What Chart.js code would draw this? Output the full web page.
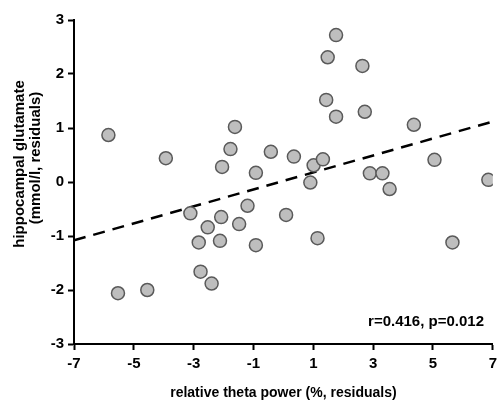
<!DOCTYPE html>
<html>
<head>
<meta charset="utf-8">
<script src="https://cdn.jsdelivr.net/npm/chart.js@4/dist/chart.umd.min.js"></script>
<style>
  html, body { margin: 0; padding: 0; background: #fff; }
  #wrap { width: 502px; height: 402px; }
</style>
</head>
<body>
<div id="wrap"><canvas id="scatterChart" width="502" height="402"></canvas></div>
<script>
// values
const thetaPower = [-5.85, -3.93, -1.62, -1.77, -2.05, -0.42, -0.92,
    1.76, 1.48, 2.64, 1.43, 1.76, 2.72, 4.36, 0.35, 1.01, 1.32, 5.05, 2.89, 3.31, 6.85,
    -3.11, -1.20, -2.08, -2.53, -1.48, -2.83, -2.12, -0.92, -2.77, -2.40, -5.53, -4.55,
    0.90, 3.55, 0.09, 1.14, 5.65];
const glutamate = [0.87, 0.44, 1.02, 0.61, 0.28, 0.56, 0.17,
    2.72, 2.31, 2.15, 1.52, 1.21, 1.30, 1.06, 0.47, 0.31, 0.42, 0.41, 0.16, 0.16, 0.04,
    -0.58, -0.44, -0.65, -0.84, -0.78, -1.12, -1.09, -1.17, -1.66, -1.88, -2.06, -2.00,
    -0.01, -0.13, -0.61, -1.04, -1.12];
const fitX = [-7, 7];
const fitY = [-1.08, 1.12];
const xTicks = [-7, -5, -3, -1, 1, 3, 5, 7];
const yTicks = [-3, -2, -1, 0, 1, 2, 3];
const statsText = 'r=0.416, p=0.012';

const FONT = 'Liberation Sans, Arial, sans-serif';

// y title (two lines) and the r/p note
const extraText = {
    id: 'extraText',
    afterDraw(chart) {
        const ctx = chart.ctx;
        ctx.save();
        ctx.fillStyle = '#000';
        ctx.font = 'bold 15px ' + FONT;
        ctx.textAlign = 'center';
        ctx.textBaseline = 'middle';
        ctx.translate(28, 0);
        ctx.rotate(-Math.PI / 2);
        ctx.fillText('hippocampal glutamate', -164, -8);
        ctx.fillText('(mmol/l, residuals)', -158, 8);
        ctx.restore();

        ctx.save();
        ctx.fillStyle = '#000';
        ctx.font = 'bold 15px ' + FONT;
        ctx.textAlign = 'right';
        ctx.textBaseline = 'alphabetic';
        ctx.fillText(statsText, 484, 326);
        ctx.restore();
    }
};

const tickGrid = {
    drawOnChartArea: false,
    drawTicks: true,
    tickLength: 6,
    tickWidth: 2,
    tickColor: '#000'
};

new Chart(document.getElementById('scatterChart'), {
    type: 'scatter',
    data: {
        datasets: [{
            data: thetaPower.map((x, i) => ({ x: x, y: glutamate[i] })),
            backgroundColor: '#bebebe',
            borderColor: '#5a5a5a',
            borderWidth: 1.5,
            pointRadius: 6.5,
            pointHoverRadius: 6.5
        }, {
            type: 'line',
            data: fitX.map((x, i) => ({ x: x, y: fitY[i] })),
            borderColor: '#000',
            borderWidth: 2.5,
            borderDash: [12, 8],
            pointRadius: 0,
            fill: false
        }]
    },
    options: {
        responsive: false,
        animation: false,
        events: [],
        layout: { padding: { top: 20, right: 6, left: 0, bottom: 0 } },
        plugins: {
            legend: { display: false },
            tooltip: { enabled: false }
        },
        scales: {
            x: {
                type: 'linear',
                min: -7,
                max: 7,
                afterBuildTicks: s => { s.ticks = xTicks.map(v => ({ value: v })); },
                afterFit: s => { s.height = 58; },
                grid: tickGrid,
                border: { display: true, color: '#000', width: 2 },
                ticks: {
                    color: '#000',
                    padding: 5,
                    maxRotation: 0,
                    font: { family: FONT, size: 15, weight: 'bold' }
                },
                title: {
                    display: true,
                    text: 'relative theta power (%, residuals)',
                    color: '#000',
                    padding: { top: 4, bottom: 0 },
                    font: { family: FONT, size: 14, weight: 'bold' }
                }
            },
            y: {
                type: 'linear',
                min: -3,
                max: 3,
                afterBuildTicks: s => { s.ticks = yTicks.map(v => ({ value: v })); },
                afterFit: s => { s.width = 74; },
                grid: tickGrid,
                border: { display: true, color: '#000', width: 2 },
                ticks: {
                    color: '#000',
                    padding: 4,
                    font: { family: FONT, size: 15, weight: 'bold' }
                }
            }
        }
    },
    plugins: [extraText]
});
</script>
</body>
</html>
